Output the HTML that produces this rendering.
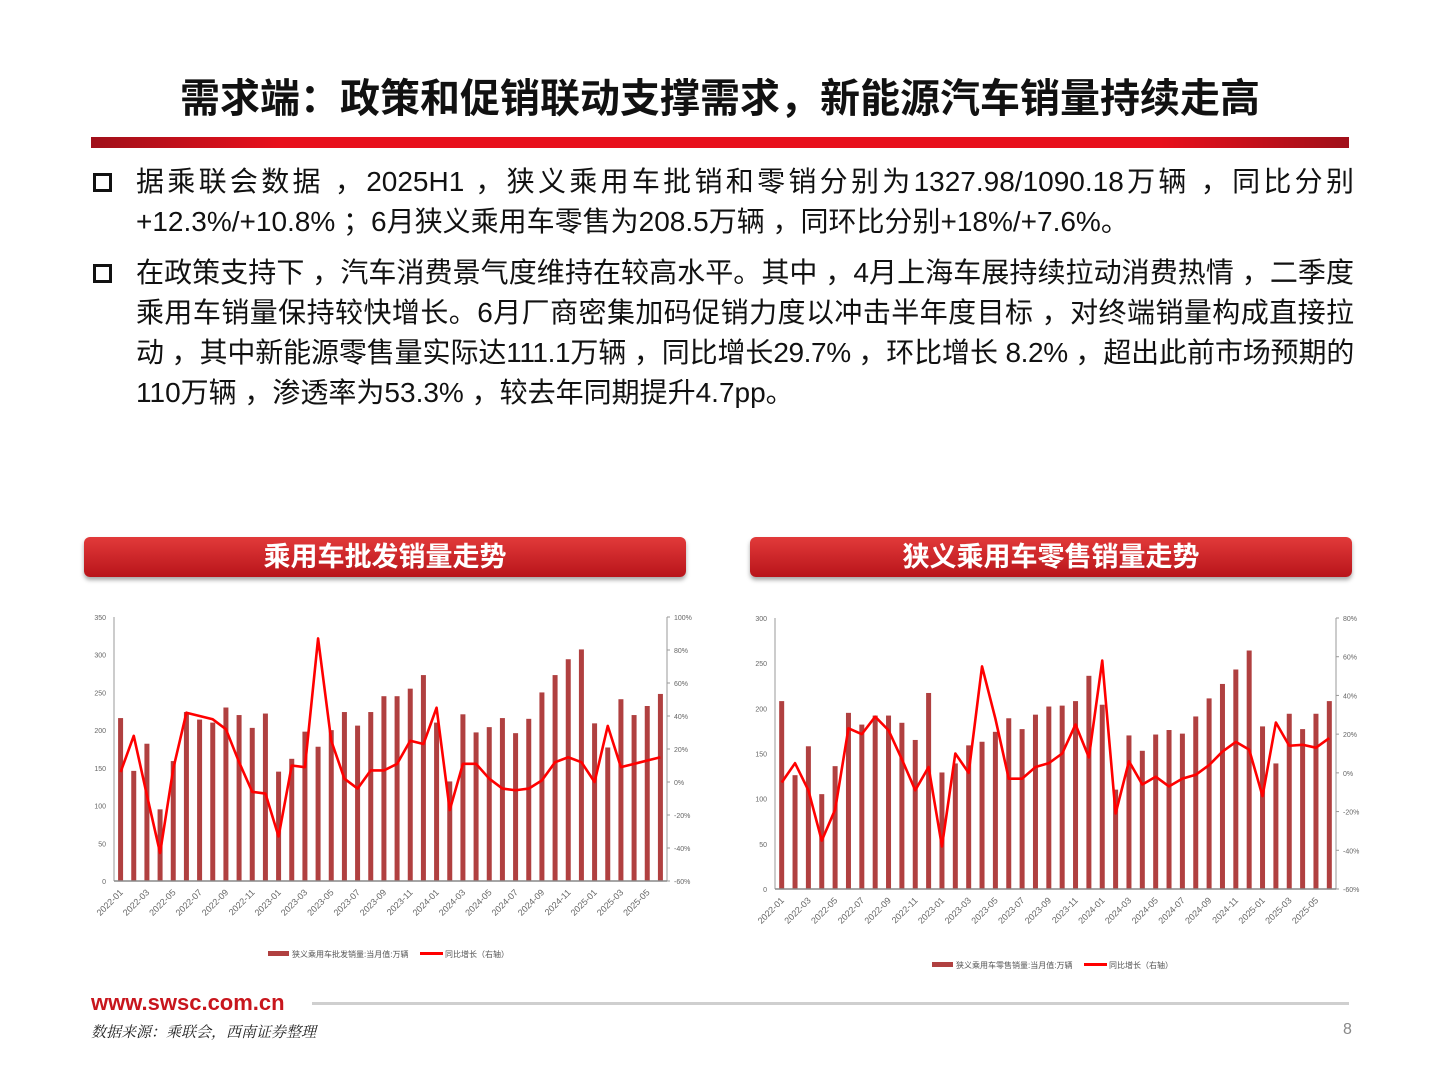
<!DOCTYPE html>
<html><head><meta charset="utf-8"><style>
*{margin:0;padding:0;box-sizing:border-box}
body{width:1440px;height:1080px;background:#fff;position:relative;overflow:hidden;font-family:"Liberation Sans","Noto Sans CJK SC",sans-serif}
.title{position:absolute;left:0;width:1440px;top:66px;text-align:center;font-size:40px;font-weight:bold;color:#111}
.redbar{position:absolute;left:91px;top:137px;width:1258px;height:11px;background:linear-gradient(90deg,#a0101a 0%,#e8101c 15%,#e8101c 85%,#a0101a 100%)}
.bul{position:absolute;left:136px;font-size:28px;line-height:40px;color:#111;width:1218px}
.bul .j{display:block;text-align:justify;text-align-last:justify;white-space:nowrap}
.bul .e{display:block;white-space:nowrap}
.sq{position:absolute;left:93px;width:19px;height:19px;border:3px solid #111}
.hdr{position:absolute;top:537px;height:40px;border-radius:6px;background:linear-gradient(#e23a3a,#b8141a);color:#fff;font-size:27px;font-weight:bold;text-align:center;line-height:40px;box-shadow:0 3px 4px rgba(0,0,0,.35)}
svg text{font-family:"Liberation Sans","Noto Sans CJK SC",sans-serif}
</style></head><body>
<div class="title">需求端：政策和促销联动支撑需求，新能源汽车销量持续走高</div>
<div class="redbar"></div>
<div class="sq" style="top:173px"></div>
<div class="bul" style="top:162px"><span class="j">据乘联会数据 ，2025H1 ，狭义乘用车批销和零销分别为1327.98/1090.18万辆 ，同比分别</span><span class="e">+12.3%/+10.8% ；6月狭义乘用车零售为208.5万辆 ，同环比分别+18%/+7.6%。</span></div>
<div class="sq" style="top:264px"></div>
<div class="bul" style="top:253px"><span class="j">在政策支持下 ，汽车消费景气度维持在较高水平。其中 ，4月上海车展持续拉动消费热情 ，二季度</span><span class="j">乘用车销量保持较快增长。6月厂商密集加码促销力度以冲击半年度目标 ，对终端销量构成直接拉</span><span class="j" style="letter-spacing:-0.4px">动 ，其中新能源零售量实际达111.1万辆 ，同比增长29.7% ，环比增长 8.2% ，超出此前市场预期的</span><span class="e">110万辆 ，渗透率为53.3% ，较去年同期提升4.7pp。</span></div>
<div class="hdr" style="left:84px;width:602px">乘用车批发销量走势</div>
<div class="hdr" style="left:750px;width:602px">狭义乘用车零售销量走势</div>
<svg id="charts" width="1440" height="1080" style="position:absolute;left:0;top:0"></svg>
<div style="position:absolute;left:91px;top:990px;font-size:22px;color:#c8161d;font-weight:bold">www.swsc.com.cn</div>
<div style="position:absolute;left:312px;top:1002px;width:1037px;height:3px;background:#cfcfcf"></div>
<div style="position:absolute;left:91px;top:1021px;font-size:15px;font-style:italic;color:#222;font-family:'Liberation Serif','Noto Serif CJK SC',serif">数据来源：乘联会，西南证券整理</div>
<div style="position:absolute;left:1343px;top:1021px;font-size:16px;color:#888">8</div>
<script>
const months=[];for(let y=2022;y<=2025;y++)for(let m=1;m<=12;m++){if(y===2025&&m>6)break;months.push(y+'-'+String(m).padStart(2,'0'));}
const wholesaleVals=[216,146,182,95,159,224,214,210,230,220,203,222,145,162,198,178,200,224,206,224,245,245,255,273,210,132,221,197,204,216,196,215,250,273,294,307,209,177,241,220,232,248];
const wholesaleYoY=[6,28,-8,-43,8,42,40,38,32,12,-6,-7,-33,10,9,87,25,2,-4,7,7,11,25,23,45,-17,11,11,2,-4,-5,-4,1,12,15,12,0,34,9,11,13,15];
const retailVals=[208,126,158,105,136,195,182,192,192,184,165,217,129,139,159,163,174,189,177,193,202,203,208,236,204,110,170,153,171,176,172,191,211,227,243,264,180,139,194,177,194,208];
const retailYoY=[-5,5,-9,-35,-19,23,20,29,22,7,-9,3,-38,10,0,55,28,-3,-3,3,5,10,25,8,58,-21,6,-6,-2,-7,-3,-1,4,11,16,12,-12,26,14,14.5,13,18];
const leftTicks=[0,50,100,150,200,250,300,350];
const leftPct=[-60,-40,-20,0,20,40,60,80,100];
const rightTicks=[0,50,100,150,200,250,300];
const rightPct=[-60,-40,-20,0,20,40,60,80];
const svg=document.getElementById('charts');const NS='http://www.w3.org/2000/svg';
function mk(t,a,p){const e=document.createElementNS(NS,t);for(const k in a)e.setAttribute(k,a[k]);(p||svg).appendChild(e);return e;}
function chart(o){
 const g=mk('g',{});
 
 
 const band=(o.x1-o.x0)/months.length;
 const xs=i=>o.x0+band*(i+0.5);
 const yl=v=>o.yb-(v-o.lt[0])/(o.lt[o.lt.length-1]-o.lt[0])*(o.yb-o.yt);
 const yr=v=>o.yb-(v-o.rt[0])/(o.rt[o.rt.length-1]-o.rt[0])*(o.yb-o.yt);
 mk('line',{x1:o.x0,y1:o.yt,x2:o.x0,y2:o.yb,stroke:'#999','stroke-width':1},g);
 mk('line',{x1:o.x1,y1:o.yt,x2:o.x1,y2:o.yb,stroke:'#999','stroke-width':1},g);
 o.lt.forEach(v=>{const t=mk('text',{x:o.x0-8,y:yl(v)+3,'font-size':7,fill:'#666','text-anchor':'end'},g);t.textContent=v;
  
  });
 o.rt.forEach(v=>{mk('line',{x1:o.x1,y1:yr(v),x2:o.x1+3,y2:yr(v),stroke:'#999'},g);const t=mk('text',{x:o.x1+7,y:yr(v)+3,'font-size':7,fill:'#666'},g);t.textContent=v+'%';
  
  });
 o.vals.forEach((v,i)=>{const r=mk('rect',{x:xs(i)-2.5,y:yl(v),width:5,height:o.yb-yl(v),fill:'#b04040'},g);
  
  });
 mk('line',{x1:o.x0,y1:o.yb,x2:o.x1,y2:o.yb,stroke:'#888','stroke-width':1.5},g);
 const pl=mk('polyline',{points:o.yoy.map((v,i)=>xs(i)+','+yr(v)).join(' '),fill:'none',stroke:'#f00','stroke-width':2.6,'stroke-linejoin':'round'},g);
 
 
 months.forEach((m,i)=>{if(i%2)return;const x=xs(i)+3,y=o.yb+12;const t=mk('text',{x:x,y:y,'font-size':9,fill:'#666','text-anchor':'end',transform:`rotate(-45 ${x} ${y})`},g);t.textContent=m;
  
  });
 const lg=mk('g',{},g);
 
 
 mk('rect',{x:o.lx,y:o.ly-3,width:21,height:5,fill:'#b04040'},lg);
 let t=mk('text',{x:o.lx+24,y:o.ly+3,'font-size':8,fill:'#555'},lg);t.textContent=o.l1;
 mk('rect',{x:o.lx+152,y:o.ly-2,width:23,height:3,fill:'#f00'},lg);
 t=mk('text',{x:o.lx+177,y:o.ly+3,'font-size':8,fill:'#555'},lg);t.textContent='同比增长（右轴）';
}
chart({name:'wholesale-chart',x0:114,x1:667,yt:617,yb:881,lt:leftTicks,rt:leftPct,vals:wholesaleVals,yoy:wholesaleYoY,lx:268,ly:954,l1:'狭义乘用车批发销量:当月值:万辆'});
chart({name:'retail-chart',x0:775,x1:1336,yt:618,yb:889,lt:rightTicks,rt:rightPct,vals:retailVals,yoy:retailYoY,lx:932,ly:965,l1:'狭义乘用车零售销量:当月值:万辆'});
</script>
</body></html>
